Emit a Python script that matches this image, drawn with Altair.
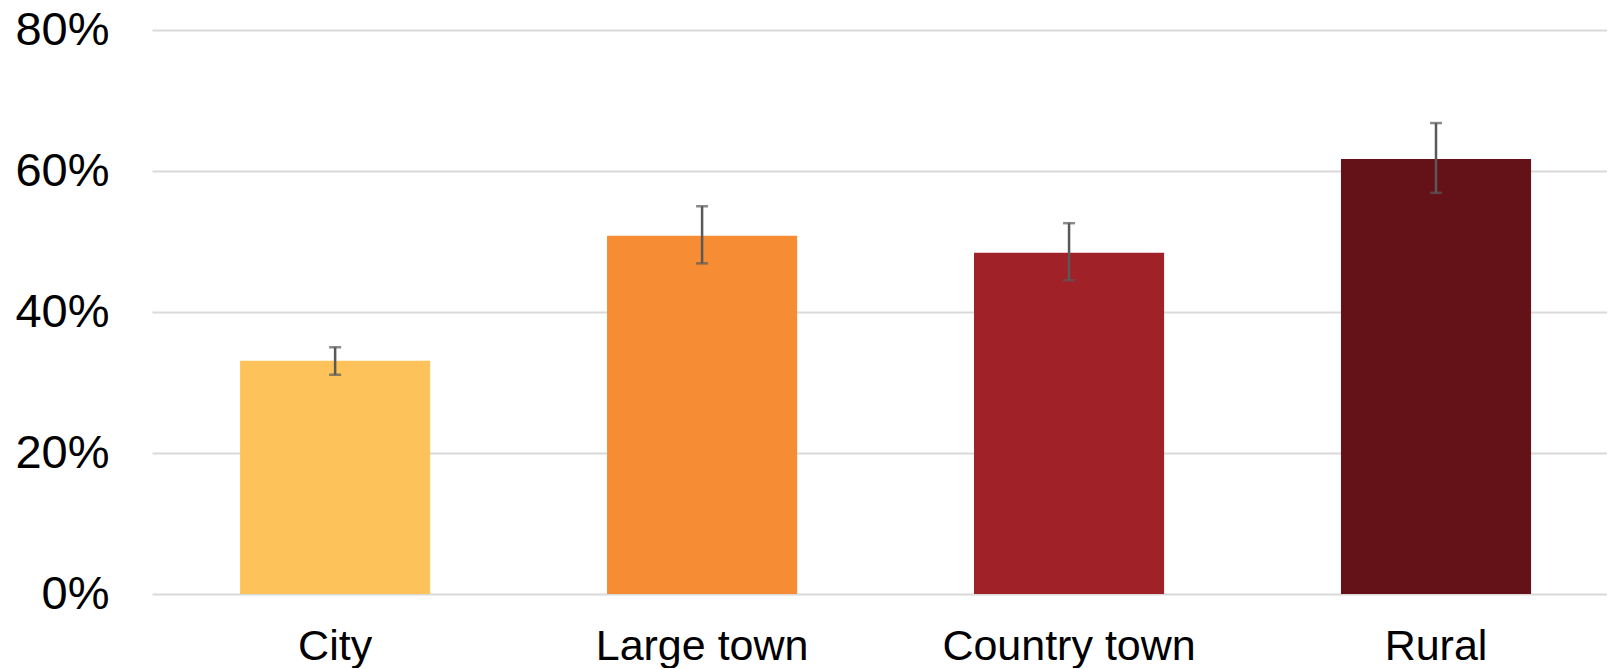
import altair as alt
import pandas as pd

categories = ["City", "Large town", "Country town", "Rural"]
values = [0.331, 0.508, 0.484, 0.617]
lower = [0.311, 0.469, 0.445, 0.569]
upper = [0.350, 0.550, 0.526, 0.668]
colors = ["#FEC25B", "#F68D35", "#A12128", "#641217"]

df = pd.DataFrame({"cat": categories, "val": values, "lo": lower, "hi": upper})

x = alt.X("cat:N", sort=categories, title=None,
          scale=alt.Scale(paddingInner=0.482, paddingOuter=0.2235, align=0.537),
          axis=alt.Axis(labelAngle=0, labelFont="Liberation Sans", labelFontSize=43,
                        labelColor="#000000", labelPadding=31, ticks=False, domain=False,
                        grid=False, labelLimit=0))
yscale = alt.Scale(domain=[0, 0.8], nice=False)

bars = alt.Chart(df).mark_bar().encode(
    x=x,
    y=alt.Y("val:Q", scale=yscale, title=None,
            axis=alt.Axis(format=".0%", values=[0, 0.2, 0.4, 0.6, 0.8],
                          labelFont="Liberation Sans", labelFontSize=47,
                          labelColor="#000000", labelPadding=43, ticks=False,
                          domain=False, grid=True, gridColor="#d9d9d9", gridWidth=2)),
    color=alt.Color("cat:N", scale=alt.Scale(domain=categories, range=colors), legend=None),
)

rule = alt.Chart(df).mark_rule(color="#595959", strokeWidth=2.5).encode(
    x=alt.X("cat:N", sort=categories),
    y=alt.Y("lo:Q", scale=yscale),
    y2="hi:Q",
)
cap_lo = alt.Chart(df).mark_tick(color="#595959", thickness=2.5, size=12, orient="horizontal").encode(
    x=alt.X("cat:N", sort=categories),
    y=alt.Y("lo:Q", scale=yscale),
)
cap_hi = alt.Chart(df).mark_tick(color="#595959", thickness=2.5, size=12, orient="horizontal").encode(
    x=alt.X("cat:N", sort=categories),
    y=alt.Y("hi:Q", scale=yscale),
)

chart = alt.layer(bars, rule, cap_lo, cap_hi).properties(
    width=1455, height=564,
    autosize=alt.AutoSizeParams(type="none"),
    padding={"left": 144, "top": 22, "right": 0, "bottom": 74},
).configure(background="white").configure_view(stroke=None)

chart.save("out.html", embed_options={"renderer": "svg", "actions": False})
